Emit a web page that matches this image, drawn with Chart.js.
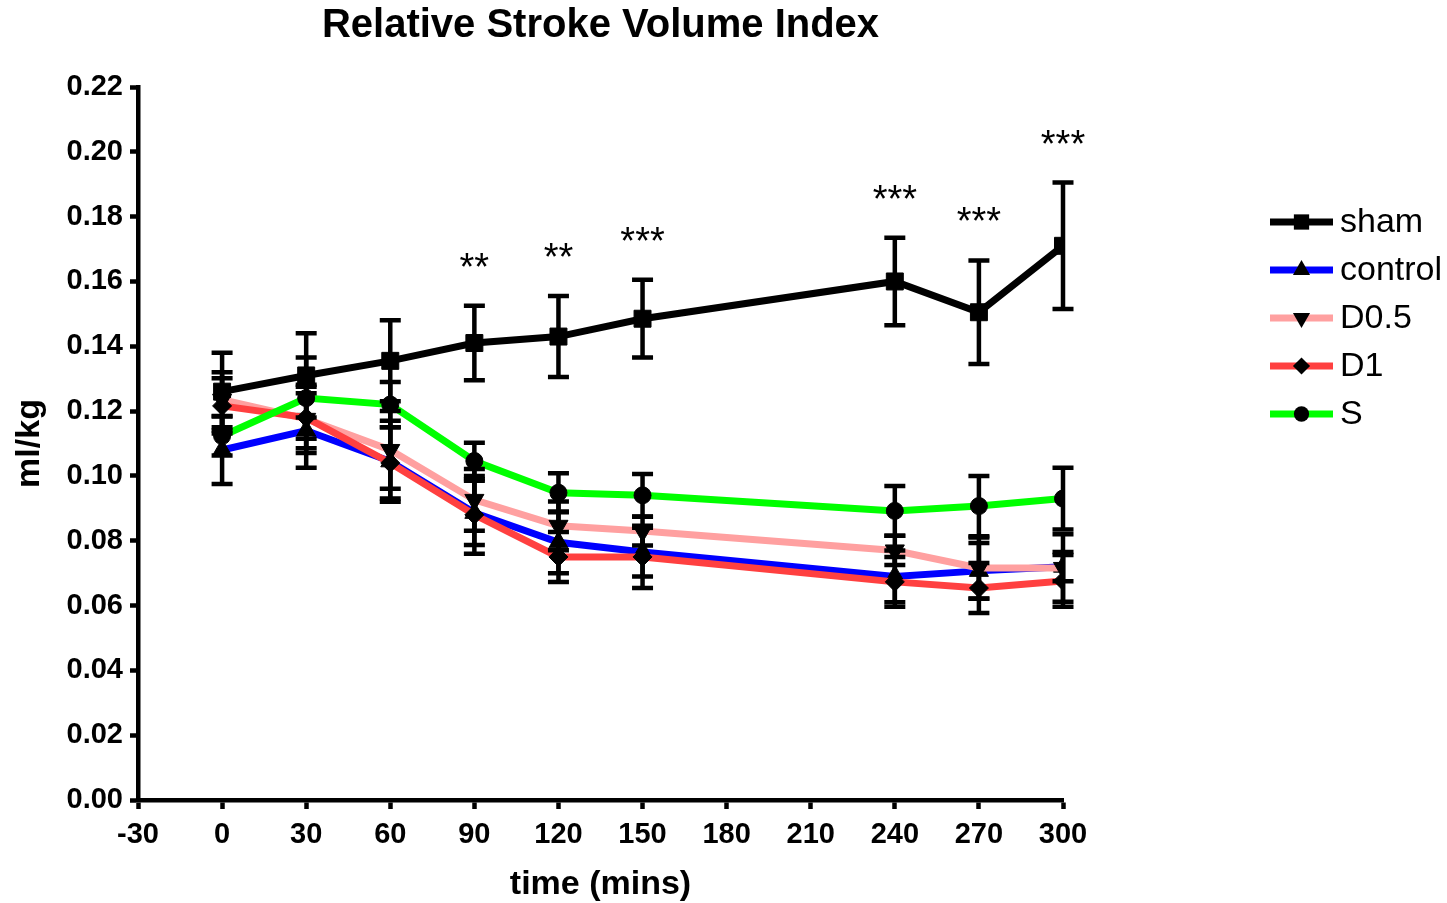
<!DOCTYPE html>
<html>
<head>
<meta charset="utf-8">
<title>Relative Stroke Volume Index</title>
<script src="https://cdn.jsdelivr.net/npm/chart.js@4.4.1/dist/chart.umd.min.js"></script>
<style>
    html, body { margin: 0; padding: 0; background: #fff; }
    canvas { display: block; }
</style>
</head>
<body>
<canvas id="myChart" width="1447" height="903"></canvas>
<script>
// values (ml/kg), time in mins
const timeMins = [0, 30, 60, 90, 120, 150, 240, 270, 300];

const sham = [0.126, 0.131, 0.1355, 0.141, 0.143, 0.1485, 0.160, 0.1505, 0.171];
const shamErr = [0.012, 0.013, 0.0125, 0.0115, 0.0125, 0.012, 0.0135, 0.016, 0.0195];

const control = [0.108, 0.114, 0.1045, 0.0886, 0.0795, 0.0765, 0.069, 0.0707, 0.072];
const controlErr = [0.0105, 0.0115, 0.0125, 0.0099, 0.0095, 0.0075, 0.008, 0.0086, 0.0045];

const d05 = [0.1235, 0.1176, 0.108, 0.0926, 0.0846, 0.083, 0.077, 0.0716, 0.0716];
const d05Err = [0.0085, 0.0105, 0.012, 0.0095, 0.0075, 0.0045, 0.0045, 0.0094, 0.0104];

const d1 = [0.1216, 0.118, 0.104, 0.088, 0.075, 0.075, 0.0673, 0.0654, 0.0676];
const d1Err = [0.0085, 0.0095, 0.011, 0.012, 0.0077, 0.0096, 0.0077, 0.0077, 0.008];

const s = [0.1123, 0.124, 0.122, 0.1046, 0.0948, 0.094, 0.0892, 0.0907, 0.093];
const sErr = [0.006, 0.0125, 0.007, 0.0056, 0.006, 0.0066, 0.0077, 0.0093, 0.0095];

// significance marks above the sham group
const sigLabels = ['', '', '', '**', '**', '***', '***', '***', '***'];

const xTickValues = [-30, 0, 30, 60, 90, 120, 150, 180, 210, 240, 270, 300];
const yTickValues = [0, 0.02, 0.04, 0.06, 0.08, 0.10, 0.12, 0.14, 0.16, 0.18, 0.20, 0.22];

const FONT = '"Liberation Sans", Arial, sans-serif';

function toPoints(values) {
    return values.map((v, i) => ({x: timeMins[i], y: v}));
}

function makeSet(label, values, errors, color, pointStyle, radius, rotation, order) {
    return {
        label: label,
        data: toPoints(values),
        errors: errors,
        borderColor: color,
        backgroundColor: color,
        borderWidth: 7,
        pointStyle: pointStyle,
        pointRadius: radius,
        pointRotation: rotation,
        pointBackgroundColor: '#000',
        pointBorderColor: '#000',
        pointBorderWidth: 1,
        tension: 0,
        order: order
    };
}

// simple marker for the legend
function drawMarker(ctx, style, x, y, r, rotation) {
    ctx.beginPath();
    if (style === 'rect') {
        const h = r * Math.SQRT1_2;
        ctx.rect(x - h, y - h, 2 * h, 2 * h);
    } else if (style === 'rectRot') {
        ctx.moveTo(x, y - r);
        ctx.lineTo(x + r, y);
        ctx.lineTo(x, y + r);
        ctx.lineTo(x - r, y);
        ctx.closePath();
    } else if (style === 'triangle') {
        const a = rotation * Math.PI / 180;
        for (let k = 0; k < 3; k++) {
            const t = a - Math.PI / 2 + k * 2 * Math.PI / 3;
            const px = x + Math.cos(t) * r;
            const py = y + Math.sin(t) * r;
            if (k === 0) ctx.moveTo(px, py); else ctx.lineTo(px, py);
        }
        ctx.closePath();
    } else {
        ctx.arc(x, y, r, 0, Math.PI * 2);
    }
    ctx.fillStyle = '#000';
    ctx.fill();
}

const errorBars = {
    id: 'errorBars',
    afterDatasetsDraw(chart) {
        const ctx = chart.ctx;
        const xs = chart.scales.x;
        const ys = chart.scales.y;
        ctx.save();
        ctx.strokeStyle = '#000';
        ctx.lineWidth = 4.5;
        ctx.lineCap = 'butt';
        chart.data.datasets.forEach((ds) => {
            ds.data.forEach((p, i) => {
                const e = ds.errors[i];
                const x = xs.getPixelForValue(p.x);
                const top = ys.getPixelForValue(p.y + e);
                const bottom = ys.getPixelForValue(p.y - e);
                ctx.beginPath();
                ctx.moveTo(x, top);
                ctx.lineTo(x, bottom);
                ctx.moveTo(x - 10.5, top);
                ctx.lineTo(x + 10.5, top);
                ctx.moveTo(x - 10.5, bottom);
                ctx.lineTo(x + 10.5, bottom);
                ctx.stroke();
            });
        });
        ctx.restore();
    }
};

const sigMarks = {
    id: 'sigMarks',
    afterDatasetsDraw(chart) {
        const ctx = chart.ctx;
        const xs = chart.scales.x;
        const ys = chart.scales.y;
        ctx.save();
        ctx.fillStyle = '#000';
        ctx.font = '38px ' + FONT;
        ctx.textAlign = 'center';
        ctx.textBaseline = 'alphabetic';
        sigLabels.forEach((txt, i) => {
            if (!txt) return;
            const x = xs.getPixelForValue(timeMins[i]);
            const y = ys.getPixelForValue(sham[i] + shamErr[i]) - 26;
            ctx.fillText(txt, x, y);
        });
        ctx.restore();
    }
};

const sideLegend = {
    id: 'sideLegend',
    afterDraw(chart) {
        const ctx = chart.ctx;
        const area = chart.chartArea;
        const lineX0 = area.right + 207;
        const lineX1 = area.right + 270;
        const textX = area.right + 277;
        ctx.save();
        chart.data.datasets.forEach((ds, i) => {
            const y = 222 + i * 48;
            ctx.strokeStyle = ds.borderColor;
            ctx.lineWidth = 7;
            ctx.beginPath();
            ctx.moveTo(lineX0, y);
            ctx.lineTo(lineX1, y);
            ctx.stroke();
            drawMarker(ctx, ds.pointStyle, (lineX0 + lineX1) / 2, y, ds.pointRadius * 0.9, ds.pointRotation);
            ctx.fillStyle = '#000';
            ctx.font = '34px ' + FONT;
            ctx.textAlign = 'left';
            ctx.textBaseline = 'middle';
            ctx.fillText(ds.label, textX, y + 1);
        });
        ctx.restore();
    }
};

const ctx = document.getElementById('myChart');

const myChart = new Chart(ctx, {
    type: 'line',
    data: {
        datasets: [
            makeSet('sham', sham, shamErr, '#000000', 'rect', 12, 0, 5),
            makeSet('control', control, controlErr, '#0000ff', 'triangle', 11, 0, 4),
            makeSet('D0.5', d05, d05Err, '#ffa0a0', 'triangle', 11, 180, 3),
            makeSet('D1', d1, d1Err, '#ff4040', 'rectRot', 9.5, 0, 2),
            makeSet('S', s, sErr, '#00ff00', 'circle', 8.5, 0, 1)
        ]
    },
    plugins: [errorBars, sigMarks, sideLegend],
    options: {
        responsive: false,
        animation: false,
        devicePixelRatio: 1,
        layout: {
            padding: {left: 0, right: 384, top: 0, bottom: 0}
        },
        plugins: {
            legend: {display: false},
            tooltip: {enabled: false},
            title: {
                display: true,
                text: 'Relative Stroke Volume Index',
                fullSize: false,
                color: '#000',
                font: {family: FONT, size: 40, weight: 'bold', lineHeight: 1.2},
                padding: {top: 2, bottom: 37}
            }
        },
        scales: {
            x: {
                type: 'linear',
                min: -30,
                max: 300,
                afterBuildTicks: (scale) => {
                    scale.ticks = xTickValues.map(v => ({value: v}));
                },
                afterFit: (scale) => {
                    scale.height = 103;
                },
                ticks: {
                    color: '#000',
                    padding: 9,
                    font: {family: FONT, size: 29, weight: 'bold'},
                    callback: (v) => String(v)
                },
                grid: {
                    display: true,
                    drawOnChartArea: false,
                    drawTicks: true,
                    tickLength: 9,
                    tickWidth: 4.5,
                    color: '#000'
                },
                border: {display: true, width: 4.5, color: '#000'},
                title: {
                    display: true,
                    text: 'time (mins)',
                    color: '#000',
                    font: {family: FONT, size: 34, weight: 'bold', lineHeight: 1},
                    padding: {top: 0, bottom: 1}
                }
            },
            y: {
                type: 'linear',
                min: 0,
                max: 0.22,
                afterBuildTicks: (scale) => {
                    scale.ticks = yTickValues.map(v => ({value: v}));
                },
                afterFit: (scale) => {
                    scale.width = 138;
                },
                ticks: {
                    color: '#000',
                    padding: 7,
                    font: {family: FONT, size: 29, weight: 'bold'},
                    callback: (v) => Number(v).toFixed(2)
                },
                grid: {
                    display: true,
                    drawOnChartArea: false,
                    drawTicks: true,
                    tickLength: 8,
                    tickWidth: 4.5,
                    color: '#000'
                },
                border: {display: true, width: 4.5, color: '#000'},
                title: {
                    display: true,
                    text: 'ml/kg',
                    color: '#000',
                    font: {family: FONT, size: 34, weight: 'bold', lineHeight: 1},
                    padding: {top: 13, bottom: 0}
                }
            }
        }
    }
});
</script>
</body>
</html>
